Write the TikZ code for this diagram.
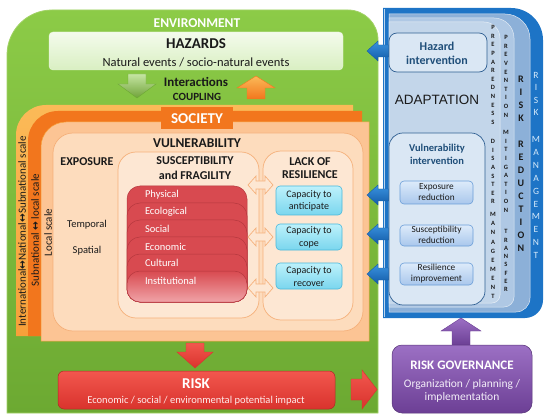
\documentclass[tikz,border=0pt]{standalone}
\usepackage{fontspec}
\setmainfont{Carlito}
\newfontfamily\arialf{Liberation Sans}
\newfontfamily\djv{DejaVu Sans}
\newcommand\fz[2]{\fontsize{#1}{#2}\selectfont}
\newcommand\lrarr{{\djv\bfseries\fz{10.5}{11}↔}}
\definecolor{envtop}{HTML}{8CCB47}
\definecolor{envbot}{HTML}{6CA932}
\definecolor{envline}{HTML}{A2D266}
\definecolor{hztop}{HTML}{F4FBEC}
\definecolor{hzbot}{HTML}{D9EFC2}
\definecolor{orA}{HTML}{F7A03A}
\definecolor{orAtop}{HTML}{FBBA58}
\definecolor{orB}{HTML}{F2761D}
\definecolor{peachC}{HTML}{FCC494}
\definecolor{peachD}{HTML}{FDDCBD}
\definecolor{lineD}{HTML}{F5B07A}
\definecolor{susfill}{HTML}{FDE7D3}
\definecolor{cardred}{HTML}{D84A50}
\definecolor{cardline}{HTML}{B5383E}
\definecolor{cardpink}{HTML}{F0A3A7}
\definecolor{cytop}{HTML}{BDF1FB}
\definecolor{cybot}{HTML}{7AD6EE}
\definecolor{cyline}{HTML}{4AB8DB}
\definecolor{blueA}{HTML}{1D74C6}
\definecolor{blueB}{HTML}{8CB0D8}
\definecolor{blueC}{HTML}{AFC8E4}
\definecolor{blueD}{HTML}{C3D6EA}
\definecolor{hzbox}{HTML}{DAE7F4}
\definecolor{hzboxline}{HTML}{2F5F92}
\definecolor{subtop}{HTML}{DDEBFA}
\definecolor{subbot}{HTML}{A9C7EC}
\definecolor{subline}{HTML}{6B9ED8}
\definecolor{navy}{HTML}{1F4E79}
\definecolor{arrtop}{HTML}{3A93E0}
\definecolor{arrbot}{HTML}{145CA8}
\definecolor{risktop}{HTML}{F2574E}
\definecolor{riskbot}{HTML}{D9332D}
\definecolor{purtop}{HTML}{9C70C4}
\definecolor{purbot}{HTML}{6C3F95}
\definecolor{mgmt}{HTML}{D6EAFB}
\definecolor{txt}{HTML}{1A1A1A}
\begin{document}
\begin{tikzpicture}[x=1pt,y=-1pt,
  every node/.style={inner sep=0pt,outer sep=0pt,text=txt},
  head/.style={font=\bfseries\fz{12}{15},align=center},
  capbox/.style={draw=cyline,line width=0.6,top color=cytop,bottom color=cybot,rounded corners=4},
  subbox/.style={draw=subline,line width=0.6,top color=subtop,bottom color=subbot,rounded corners=4},
  captext/.style={font=\fz{10}{12.7},align=center},
  subtext/.style={font=\fz{9.3}{11},align=center},
  cardtext/.style={font=\fz{10.5}{12},text=white,anchor=west},
  colword/.style={font=\bfseries\fz{6.5}{8.6},align=center,anchor=north},
  scaletext/.style={font=\fz{11}{12},rotate=90,text=txt},
  hollowarrow/.style={draw=lineD,fill=susfill,line width=0.7},
  bluearrow/.style={top color=arrtop,bottom color=arrbot,draw=arrbot,line width=0.4}]
\useasboundingbox (0,0) rectangle (550,420);

% ---------------- ENVIRONMENT
\path[top color=envtop,bottom color=envbot,draw=envline,line width=0.8]
  (7,413) -- (7,55) arc[start angle=180,end angle=270,radius=45] -- (348,10)
  arc[start angle=270,end angle=360,radius=30] -- (378,413) -- cycle;
\node[font=\bfseries\fz{13.5}{15},text=white] (env) at (197,23) {ENVIRONMENT};

% hazards
\path[draw=hztop!60!hzbot,top color=hztop,bottom color=hzbot,rounded corners=4]
  (49,32) rectangle (343,70);
\node[font=\bfseries\fz{15}{17}] (haz) at (196,44) {HAZARDS};
\node[font=\fz{12.5}{14}] (hazsub) at (196,62) {Natural events / socio-natural events};

% interaction arrows
\path[top color=envtop!50!white,bottom color=envtop!80!black,draw=envbot,line width=0.4]
  (128,74) -- (146,74) -- (146,84) -- (156,84) -- (137,98) -- (118,84) -- (128,84) -- cycle;
\path[top color=orAtop,bottom color=orB,draw=orB,line width=0.4]
  (256,76) -- (275,88) -- (265,88) -- (265,99) -- (247,99) -- (247,88) -- (237,88) -- cycle;
\node[font=\bfseries\fz{13}{15}] (inter) at (196,82) {Interactions};
\node[font=\bfseries\fz{11}{13}] (coup) at (197,97) {COUPLING};

% ---------------- SOCIETY layers
\path[top color=orAtop,bottom color=orA,shading angle=0]
  (16,336) -- (16,135) arc[start angle=180,end angle=270,radius=30] -- (353,105) -- (353,336) -- cycle;
\path[fill=orB]
  (28,336) -- (28,141) arc[start angle=180,end angle=270,radius=30] -- (362,111) -- (362,336) -- cycle;
\path[fill=peachC,draw=orA,line width=0.5]
  (41,341) -- (41,147) arc[start angle=180,end angle=270,radius=25] -- (369,122) -- (369,341) -- cycle;
\path[fill=peachD,draw=lineD,line width=0.7,rounded corners=20] (53,133) rectangle (363,331);

\path[fill=orB] (161,107) rectangle (233,129);
\node[font=\bfseries\fz{15}{17},text=white] (soc) at (197,118.5) {SOCIETY};

\node[scaletext] (intl) at (22,231.5) {International\lrarr National\lrarr Subnational scale};
\node[scaletext] (subn) at (35,230) {Subnational \lrarr\ local scale};
\node[scaletext] (locs) at (48,232.5) {Local scale};

\node[font=\bfseries\fz{13.5}{15}] (vul) at (197,143) {VULNERABILITY};
\node[head] (expo) at (87,162) {EXPOSURE};
\node[font=\fz{10.5}{12}] (temp) at (87,225) {Temporal};
\node[font=\fz{10.5}{12}] (spat) at (87,251) {Spatial};

% susceptibility box
\path[fill=susfill,draw=lineD,line width=0.7,rounded corners=18] (118,152) rectangle (259,318);
\node[head] (sus) at (195,168.5) {SUSCEPTIBILITY\\and FRAGILITY};
% lack of resilience box
\path[fill=susfill,draw=lineD,line width=0.7,rounded corners=18] (263,151) rectangle (353,320);
\node[font=\bfseries\fz{12}{13},align=center] (lack) at (310,168.5) {LACK OF\\RESILIENCE};

% red cards
\foreach \t in {186,203,220,237,254}{
  \path[fill=cardred,draw=cardline,line width=0.5,rounded corners=13] (127,\t) rectangle (247,302);
}
\path[top color=cardred,bottom color=cardpink,draw=cardline,line width=0.5,rounded corners=13]
  (127,271) rectangle (247,302);
\node[cardtext] (phys) at (145,195) {Physical};
\node[cardtext] (eco) at (145,212) {Ecological};
\node[cardtext] (socl) at (145,229) {Social};
\node[cardtext] (econ) at (145,246.5) {Economic};
\node[cardtext] (cult) at (145,263) {Cultural};
\node[cardtext] (inst) at (145,281) {Institutional};

% hollow double arrows
\foreach \yc in {185,237,288}{
  \path[hollowarrow] (248,\yc) -- (256,\yc-9) -- (256,\yc-4) -- (265,\yc-4) -- (265,\yc-9)
    -- (273,\yc) -- (265,\yc+9) -- (265,\yc+4) -- (256,\yc+4) -- (256,\yc+9) -- cycle;
}

% capacity boxes
\path[capbox] (276,186) rectangle (342,215);
\node[captext] (cap1) at (309,201) {Capacity to\\anticipate};
\path[capbox] (276,224) rectangle (342,250);
\node[captext] (cap2) at (309,237.5) {Capacity to\\cope};
\path[capbox] (276,263) rectangle (342,289);
\node[captext] (cap3) at (309,276.5) {Capacity to\\recover};

% ---------------- RISK
\path[top color=risktop,bottom color=riskbot,draw=riskbot,line width=0.4]
  (186,343) -- (204,343) -- (204,352) -- (213,352) -- (195,368) -- (177,352) -- (186,352) -- cycle;
\path[top color=risktop,bottom color=riskbot,draw=riskbot!80!black,line width=0.5,rounded corners=6]
  (58,371) rectangle (335,409);
\node[font=\bfseries\fz{15}{17},text=white] (risk) at (196,384) {RISK};
\node[font=\fz{10.5}{12},text=white!92!red] (risksub) at (196,401) {Economic / social / environmental potential impact};
\path[top color=risktop,bottom color=riskbot,draw=riskbot,line width=0.4]
  (351,379) -- (362,379) -- (362,370) -- (377,389.5) -- (362,409) -- (362,400) -- (351,400) -- cycle;

% ---------------- RISK MANAGEMENT panel
\path[fill=blueA]
  (383,318) -- (383,8) -- (511,8) arc[start angle=270,end angle=360,radius=32]
  -- (543,300) arc[start angle=0,end angle=90,radius=18] -- cycle;
\path[fill=blueB,draw=white!70!blueB,line width=0.5]
  (389,312) -- (389,14) -- (505,14) arc[start angle=270,end angle=360,radius=25]
  -- (530,298) arc[start angle=0,end angle=90,radius=14] -- cycle;
\path[fill=blueC,draw=white!60!blueC,line width=0.5]
  (389,307) -- (389,18) -- (494,18) arc[start angle=270,end angle=360,radius=20]
  -- (514,297) arc[start angle=0,end angle=90,radius=10] -- cycle;
\path[fill=blueD,draw=white!60!blueD,line width=0.5]
  (389,303) -- (389,22) -- (484,22) arc[start angle=270,end angle=360,radius=16]
  -- (500,295) arc[start angle=0,end angle=90,radius=8] -- cycle;
\draw[white!70!blueA,line width=0.8] (384.5,9) -- (384.5,317);

\foreach \yc in {51,195,234,274}{
  \path[bluearrow] (367,\yc) -- (378,\yc-10) -- (378,\yc-6) -- (390,\yc-6) -- (390,\yc+6)
    -- (378,\yc+6) -- (378,\yc+10) -- cycle;
}

\path[fill=hzbox,draw=hzboxline,line width=0.7,rounded corners=8] (389,33) rectangle (487,72);
\node[font=\bfseries\fz{12}{14},text=navy,align=center] (hzint) at (437,53.5) {Hazard\\intervention};
\node[font=\arialf\fz{13.5}{15}] (adapt) at (437,100) {ADAPTATION};
\path[fill=hzbox,draw=hzboxline,line width=0.7,rounded corners=14] (389,133) rectangle (485,305);
\node[font=\bfseries\fz{10.5}{13.5},text=navy,align=center] (vint) at (437,154.5) {Vulnerability\\intervention};
\path[subbox] (400,181) rectangle (473,204);
\node[subtext] (er) at (436.5,192.5) {Exposure\\reduction};
\path[subbox] (400,225) rectangle (473,246);
\node[subtext] (sr) at (436.5,235) {Susceptibility\\reduction};
\path[subbox] (400,263) rectangle (473,285);
\node[subtext] (ri) at (436.5,274) {Resilience\\improvement};

% vertical words
\node[colword] (w1) at (493,25.5) {P\\R\\E\\P\\A\\R\\E\\D\\N\\E\\S\\S};
\node[colword] (w2) at (493,139.5) {D\\I\\S\\A\\S\\T\\E\\R};
\node[colword,font=\bfseries\fz{6.5}{9.1}] (w3) at (493,212.5) {M\\A\\N\\A\\G\\E\\M\\E\\N\\T};
\node[colword] (w4) at (506,35.5) {P\\R\\E\\V\\E\\N\\T\\I\\O\\N};
\node[colword] (w5) at (506,130.5) {M\\I\\T\\I\\G\\A\\T\\I\\O\\N};
\node[colword,font=\bfseries\fz{6.5}{8.3}] (w6) at (506,229.5) {T\\R\\A\\N\\S\\F\\E\\R};
\node[colword,font=\bfseries\fz{10}{12.7}] (w7) at (521,76.5) {R\\I\\S\\K};
\node[colword,font=\bfseries\fz{10}{12.9}] (w8) at (521,141.5) {R\\E\\D\\U\\C\\T\\I\\O\\N};
\node[colword,font=\fz{9.5}{12.4},text=mgmt] (w9) at (536,72.5) {R\\I\\S\\K};
\node[colword,font=\fz{9.5}{12.9},text=mgmt] (w10) at (536,136.5) {M\\A\\N\\A\\G\\E\\M\\E\\N\\T};

% ---------------- RISK GOVERNANCE
\path[top color=purtop,bottom color=purbot,draw=purbot,line width=0.4]
  (461,318) -- (481,331) -- (470,331) -- (470,345) -- (452,345) -- (452,331) -- (441,331) -- cycle;
\path[top color=purtop,bottom color=purbot,draw=purbot!80!black,line width=0.5,rounded corners=10]
  (392,345) rectangle (532,413);
\node[font=\bfseries\fz{13}{15},text=white] (gov) at (462,365) {RISK GOVERNANCE};
\node[font=\fz{11.5}{13},text=white!88!purtop,align=center] (govsub) at (462,390.5) {Organization / planning /\\implementation};
\end{tikzpicture}
\end{document}
